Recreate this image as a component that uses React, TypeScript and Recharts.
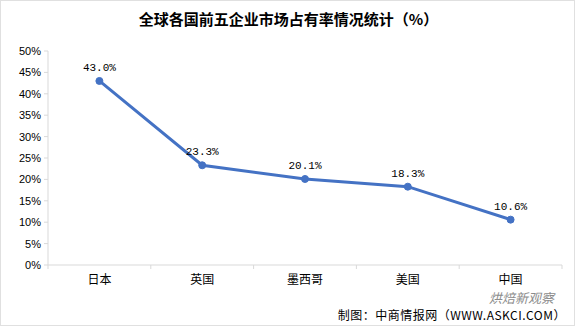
import React from "react"
import { LineChart, Line, XAxis, YAxis, LabelList } from "recharts"

const countries = ["日本", "英国", "墨西哥", "美国", "中国"]
const shares = [43.0, 23.3, 20.1, 18.3, 10.6]
const yTicks = [0, 5, 10, 15, 20, 25, 30, 35, 40, 45, 50]

const data = countries.map((name, i) => ({ name, value: shares[i] }))

const W = 575
const H = 326
const LINE_COLOR = "#4472C4"
const AXIS_COLOR = "#d9d9d9"

// tick text plus the little boundary marks between categories
const CategoryTick = (props: any) => {
  const { x, y, payload, index, visibleTicksCount, width } = props
  const band = width / (visibleTicksCount || countries.length)
  const axisY = y - 8
  return (
    <g>
      <line x1={x - band / 2} x2={x - band / 2} y1={axisY} y2={axisY + 4} stroke={AXIS_COLOR} />
      {index === countries.length - 1 && (
        <line x1={x + band / 2} x2={x + band / 2} y1={axisY} y2={axisY + 4} stroke={AXIS_COLOR} />
      )}
      <text x={x} y={y + 11} textAnchor="middle" fontSize={12} fill="#000"
        fontFamily="'Noto Sans CJK SC', sans-serif">
        {payload.value}
      </text>
    </g>
  )
}

export default function App() {
  return (
    <div style={{ position: "absolute", left: 0, top: 0, width: W, height: H, background: "#fff", boxSizing: "border-box", border: "1px solid #e0e0e0" }}>
      <div style={{ position: "absolute", left: 0, top: 7, width: W, textAlign: "center", fontFamily: "'Noto Sans CJK SC', sans-serif", fontWeight: 700, fontSize: 15, color: "#000" }}>
        全球各国前五企业市场占有率情况统计（%）
      </div>
      <LineChart width={W - 2} height={H - 2} data={data} margin={{ top: 50, right: 12, bottom: 30, left: 0 }}>
        <XAxis
          dataKey="name"
          scale="band"
          axisLine={{ stroke: AXIS_COLOR }}
          tickLine={false}
          tickSize={6}
          tickMargin={2}
          interval={0}
          tick={<CategoryTick />}
        />
        <YAxis
          width={47}
          domain={[0, 50]}
          ticks={yTicks}
          tickFormatter={(v) => `${v}%`}
          axisLine={{ stroke: AXIS_COLOR }}
          tickLine={{ stroke: AXIS_COLOR }}
          tickSize={4}
          tickMargin={3}
          tick={{ fontSize: 11, fill: "#000", fontFamily: "'Liberation Sans', Arial, sans-serif" }}
        />
        <Line
          type="linear"
          dataKey="value"
          stroke={LINE_COLOR}
          strokeWidth={3}
          dot={{ r: 3.5, fill: LINE_COLOR, stroke: LINE_COLOR, strokeWidth: 1 }}
          isAnimationActive={false}
        >
          <LabelList
            dataKey="value"
            position="top"
            offset={10}
            formatter={(v: any) => `${Number(v).toFixed(1)}%`}
            style={{ fontSize: 11, fill: "#000", fontFamily: "'Liberation Mono', 'DejaVu Sans Mono', monospace" }}
          />
        </Line>
      </LineChart>
      <div style={{ position: "absolute", left: 488, top: 290, lineHeight: "14px", fontFamily: "'Noto Sans CJK SC', sans-serif", fontStyle: "italic", fontSize: 13, color: "#8c8c8c" }}>
        烘焙新观察
      </div>
      <div style={{ position: "absolute", right: 8, top: 307, lineHeight: "13px", fontFamily: "'Noto Sans CJK SC', sans-serif", fontSize: 12, color: "#000", letterSpacing: 0.5 }}>
        制图：中商情报网（WWW.ASKCI.COM）
      </div>
    </div>
  )
}
